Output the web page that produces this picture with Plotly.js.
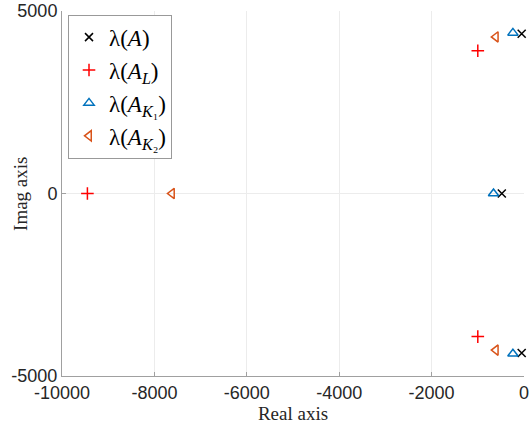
<!DOCTYPE html>
<html><head><meta charset="utf-8">
<script src="https://cdn.plot.ly/plotly-3.0.1.min.js"></script>
<style>html,body{margin:0;padding:0;background:#fff}#plot{width:531px;height:432px}</style>
</head><body><div id="plot"></div>
<script>
// eigenvalues (real, imag)
const eigA_re   = [-50, -480, -50];
const eigA_im   = [4375, 0, -4370];
const eigAL_re  = [-1000, -9450, -1000];
const eigAL_im  = [3910, 0, -3920];
const eigAK1_re = [-240, -660, -240];
const eigAK1_im = [4400, 0, -4390];
const eigAK2_re = [-610, -7620, -610];
const eigAK2_im = [4290, 0, -4290];
const names = ["λ(<i>A</i>)", "λ(<i>A</i><sub><i>L</i></sub>)", "λ(<i>A</i><sub><i>K</i>₁</sub>)", "λ(<i>A</i><sub><i>K</i>₂</sub>)"];
const xTicks = [-10000, -8000, -6000, -4000, -2000, 0];
const yTicks = [-5000, 0, 5000];

function tr(x, y, name, symbol, color, size) {
  return {x: x, y: y, name: name, type: 'scatter', mode: 'markers', cliponaxis: false,
    marker: {symbol: symbol, size: size, color: color, line: {color: color, width: 1.5}}};
}
const data = [
  tr(eigA_re, eigA_im, names[0], 'x-thin-open', '#000000', 8),
  tr(eigAL_re, eigAL_im, names[1], 'cross-thin-open', '#FF0000', 9),
  tr(eigAK1_re, eigAK1_im, names[2], 'triangle-up-open', '#0072BD', 9),
  tr(eigAK2_re, eigAK2_im, names[3], 'triangle-left-open', '#D95319', 9)
];
const tickFont = {family: 'Liberation Sans, Arial, sans-serif', size: 18, color: '#262626'};
const titleFont = {family: 'Liberation Serif, serif', size: 19, color: '#262626'};
const layout = {
  width: 531, height: 432,
  margin: {l: 62, r: 7, t: 11, b: 56},
  paper_bgcolor: '#fff', plot_bgcolor: '#fff',
  showlegend: true,
  legend: {x: 0.013, y: 0.99, xanchor: 'left', yanchor: 'top',
    bgcolor: '#fff', bordercolor: '#999', borderwidth: 1,
    font: {family: 'Liberation Serif, serif', size: 23, color: '#000'}},
  xaxis: {range: [-10000, 0], tickvals: xTicks, ticktext: xTicks.map(String),
    showgrid: true, gridcolor: '#ececec', zeroline: false, ticklabeloverflow: 'allow',
    showline: true, linecolor: '#a0a0a0', ticks: 'inside', ticklen: 4, tickcolor: '#a0a0a0',
    tickfont: tickFont, title: {text: 'Real axis', font: titleFont, standoff: 4}},
  yaxis: {range: [-5000, 5000], tickvals: yTicks, ticktext: yTicks.map(String),
    showgrid: true, gridcolor: '#ececec', zeroline: false, ticklabeloverflow: 'allow',
    showline: true, linecolor: '#a0a0a0', ticks: 'inside', ticklen: 4, tickcolor: '#a0a0a0',
    tickfont: tickFont},
  annotations: [{text: 'Imag axis', xref: 'paper', yref: 'paper', x: -0.09, y: 0.5,
    xanchor: 'center', yanchor: 'middle', textangle: -90, showarrow: false, font: titleFont}]
};
Plotly.newPlot('plot', data, layout, {staticPlot: true});
</script></body></html>
